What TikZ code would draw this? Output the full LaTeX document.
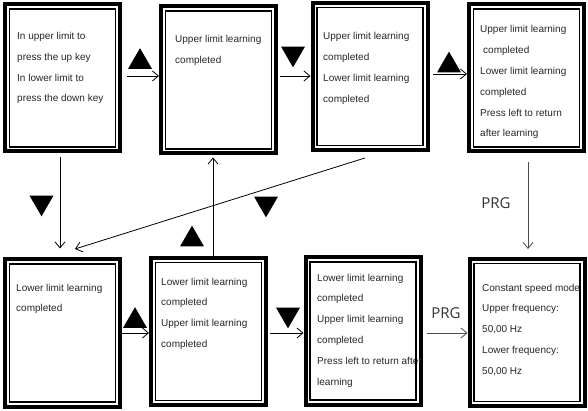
\documentclass[tikz,border=0pt]{standalone}
\usepackage{fontspec}
\setmainfont{Liberation Sans}
\newfontfamily\prgfont{Open Sans}
\usetikzlibrary{arrows.meta,shapes.geometric}

\tikzset{
  screen/.style={draw, line width=4pt, minimum width=115pt, minimum height=147pt, inner sep=0pt},
  frame/.style={line width=1.3pt},
  txt/.style={anchor=base west, align=left, inner sep=0pt, text=black!85,
    font=\fontsize{10}{20.8}\selectfont},
  flow/.style={line width=0.8pt, -{Straight Barb[length=6pt,width=10pt]}},
  upkey/.style={fill, regular polygon, regular polygon sides=3, minimum size=27.5pt, inner sep=0pt},
  downkey/.style={upkey, shape border rotate=180},
  prg/.style={font=\prgfont\fontsize{15}{15}\selectfont, text=black!80, inner sep=0pt}
}

\begin{document}
\begin{tikzpicture}[x=1pt,y=-1pt]
\useasboundingbox (0,0) rectangle (588,411);

% screens
\node[screen] (b1) at (62.5,78) {};
\node[screen] (b2) at (218.5,80) {};
\node[screen] (b3) at (370,76.5) {};
\node[screen] (b4) at (526.5,78) {};
\node[screen] (b5) at (62.5,333) {};
\node[screen] (b6) at (208.5,331.5) {};
\node[screen] (b7) at (363,331) {};
\node[screen] (b8) at (527,332.5) {};

% screen texts (placed at the baseline of their last line)
\node[txt] (t1) at (17,101.9) {In upper limit to\\press the up key\\In lower limit to\\press the down key};
\node[txt] (t2) at (175,63.8) {Upper limit learning\\completed};
\node[txt] (t3) at (323,102.4) {Upper limit learning\\completed\\Lower limit learning\\completed};
\node[txt] (t4) at (480,137) {Upper limit learning\\\hspace*{3pt}completed\\Lower limit learning\\completed\\Press left to return\\after learning};
\node[txt] (t5) at (16,311.8) {Lower limit learning\\completed};
\node[txt] (t6) at (161,347.4) {Lower limit learning\\completed\\Upper limit learning\\completed};
\node[txt] (t7) at (317,385) {Lower limit learning\\completed\\Upper limit learning\\completed\\Press left to return after\\learning};
\node[txt] (t8) at (482,374.2) {Constant speed mode\\Upper frequency:\\50,00 Hz\\Lower frequency:\\50,00 Hz};

\foreach \b in {b1,b2,b3,b4,b5,b6,b7,b8}
  \draw[frame] ([shift={(6.5pt,-6.5pt)}]\b.north west) rectangle ([shift={(-6.5pt,6.5pt)}]\b.south east);

% keys
\node[upkey] (k12) at (140,61.9) {};
\node[downkey] (k23) at (293,53.6) {};
\node[upkey] (k34) at (449,65.4) {};
\node[downkey] (k15) at (41.5,202.6) {};
\node[upkey] (k62) at (192,239.4) {};
\node[downkey] (k31) at (266,203.6) {};
\node[upkey] (k56) at (135,320.9) {};
\node[downkey] (k67) at (288,314.6) {};
\node[prg] (p48) at (496,203) {PRG};
\node[prg] (p78) at (446,313) {PRG};

\coordinate (d5) at (75,249);

% connectors
\draw[flow, shorten <=5pt] (b1.east |- 0,76) -- (b2.west |- 0,76);
\draw[flow, shorten <=2pt] (b2.east |- 0,76) -- (b3.west |- 0,76);
\draw[flow, shorten <=3pt] (b3.east |- 0,74) -- (b4.west |- 0,74);
\draw[flow] (b5.east |- 0,333) -- (b6.west |- 0,333);
\draw[flow, shorten <=2pt] (b6.east |- 0,333) -- (b7.west |- 0,333);
\draw[flow, black!70, shorten <=4pt] (b7.east |- 0,333) -- (b8.west |- 0,333);
\draw[flow, shorten <=4pt, shorten >=9pt] (b1.south -| 60,0) -- (b5.north -| 60,0);
\draw[flow, shorten >=2pt] (b6.north -| 213,0) -- (b2.south -| 213,0);
\draw[flow, shorten <=20pt] (b3.south -| 384,0) -- (d5);
\draw[flow, black!70, shorten <=9pt, shorten >=8pt] (b4.south -| 528,0) -- (b8.north -| 528,0);
\end{tikzpicture}
\end{document}
